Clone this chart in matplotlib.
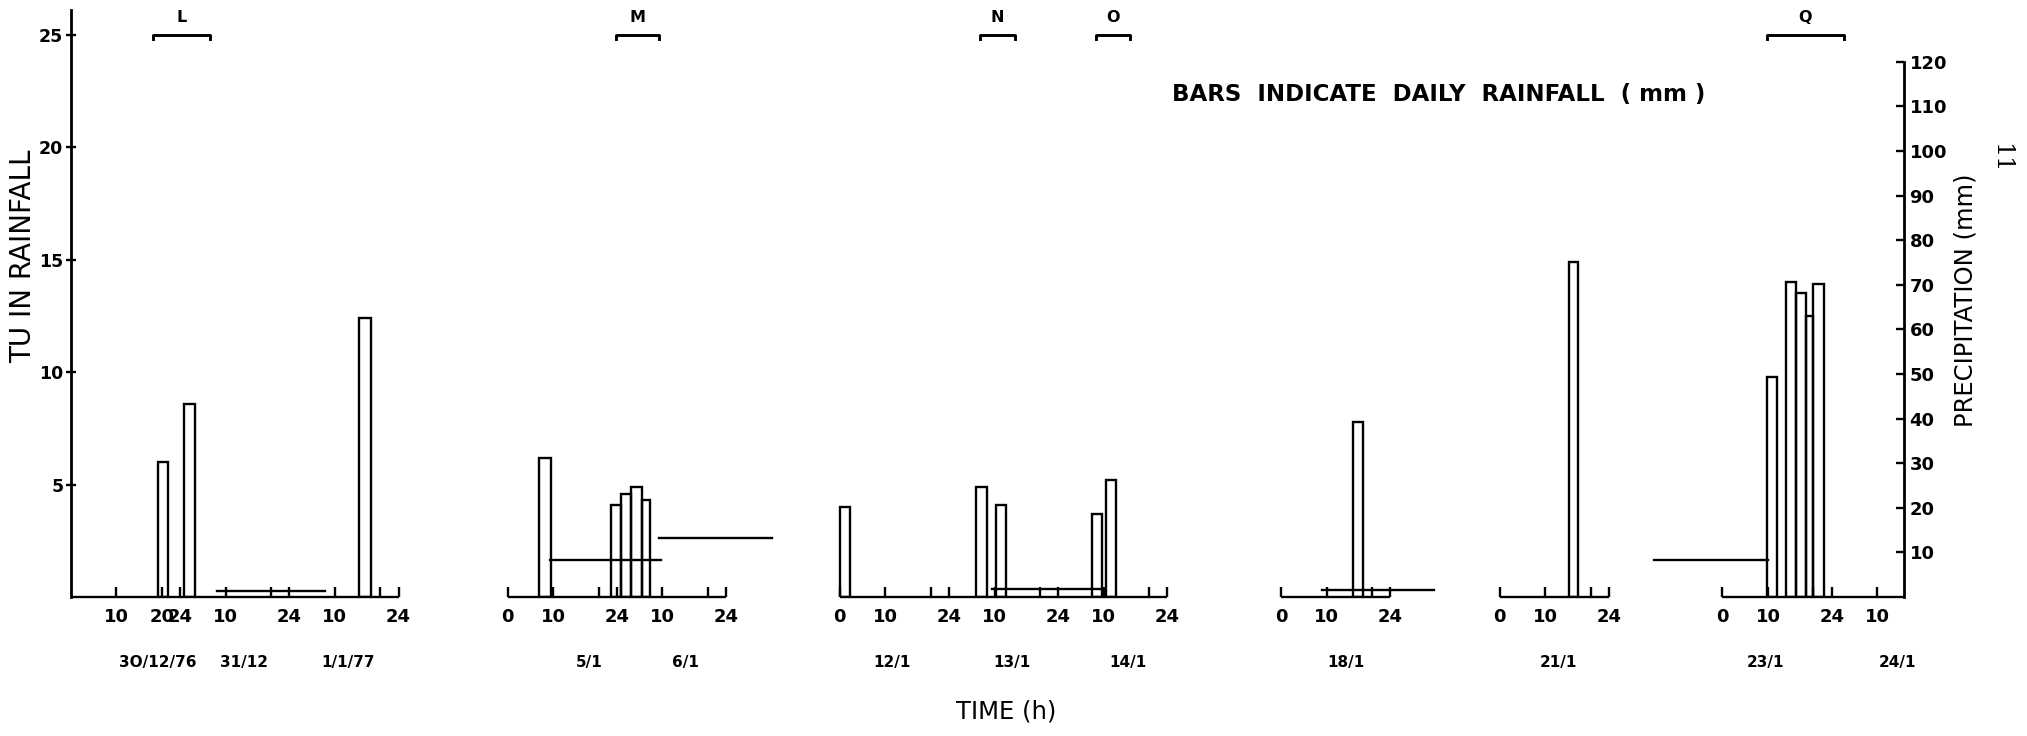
import matplotlib
matplotlib.use("Agg")
import matplotlib.pyplot as plt

# segment layout on the plotting time axis (hours) - gaps between sampling periods are compressed
seg_pos = [0, 96, 169, 266, 314, 363]
seg_len = [72, 48, 72, 24, 24, 40]

# tick hours inside each segment (labelled) and unlabelled 20h ticks
seg_ticks = [[10, 20, 24, 34, 48, 58, 72], [0, 10, 24, 34, 48], [0, 10, 24, 34, 48, 58, 72],
             [0, 10, 24], [0, 10, 24], [0, 10, 24, 34]]
seg_minor = [[44, 68], [20, 44], [20, 44, 68], [20], [20], [20]]

# date labels (segment, hour, text)
date_seg = [0, 0, 0, 1, 1, 2, 2, 2, 3, 4, 5, 5]
date_hour = [19, 38, 61, 18, 39, 11.4, 37.8, 63.3, 14.2, 13, 9.5, 38.5]
date_text = ["3O/12/76", "31/12", "1/1/77", "5/1", "6/1", "12/1", "13/1", "14/1",
             "18/1", "21/1", "23/1", "24/1"]

# tritium content of rainfall (TU), bars
tu_seg = [0, 0, 0, 1, 1, 1, 1, 1, 2, 2, 2, 2, 2, 3, 4, 5, 5, 5, 5, 5]
tu_start = [19.1, 24.8, 63.4, 6.8, 22.8, 24.9, 27.1, 29.4, 0.0, 30.0, 34.3, 55.4, 58.5,
            15.7, 15.2, 9.8, 14.0, 16.1, 18.3, 19.9]
tu_end = [21.3, 27.3, 65.9, 9.4, 24.9, 27.1, 29.4, 31.3, 2.2, 32.4, 36.6, 57.7, 60.8,
          18.0, 17.3, 12.0, 16.1, 18.3, 19.9, 22.3]
tu_value = [6.0, 8.6, 12.4, 6.2, 4.1, 4.6, 4.9, 4.3, 4.0, 4.9, 4.1, 3.7, 5.2,
            7.8, 14.9, 9.8, 14.0, 13.5, 12.5, 13.9]

# daily rainfall (mm), horizontal bars
rain_seg = [0, 1, 1, 2, 3, 5]
rain_start = [32.0, 9.2, 33.2, 33.5, 8.9, -15.0]
rain_end = [55.8, 33.6, 58.0, 57.5, 33.6, 10.0]
rain_mm = [1.3, 8.4, 13.2, 1.9, 1.5, 8.3]

# sampling periods marked at the top
per_seg = [0, 1, 2, 2, 5]
per_start = [18.0, 23.7, 30.8, 56.3, 9.7]
per_end = [30.5, 33.2, 38.5, 63.7, 26.7]
per_name = ["L", "M", "N", "O", "Q"]

W, H = 2027, 736
fig = plt.figure(figsize=(W / 100, H / 100), dpi=100)
x0, x1, ybase, ytop = 71, 1904, 597, 10
ax = fig.add_axes([x0 / W, 1 - ybase / H, (x1 - x0) / W, (ybase - ytop) / H])
ax.set_xlim(0, 402.9)
ax.set_ylim(0, 26.1)
mm_per_tu = 120 / 23.8

lw = 1.7
for s in ["top", "right", "bottom"]:
    ax.spines[s].set_visible(False)
ax.spines["left"].set_linewidth(lw + 0.3)
ax.set_yticks([5, 10, 15, 20, 25])
ax.tick_params(axis="y", direction="inout", length=7, width=lw, labelsize=12.5, pad=2)
for t in ax.get_yticklabels():
    t.set_fontweight("bold")

# time axis: one baseline per sampling period
major, labels, minor = [], [], []
for i in range(len(seg_pos)):
    ax.plot([seg_pos[i], seg_pos[i] + seg_len[i]], [0, 0], color="black", lw=lw, clip_on=False,
            solid_capstyle="butt")
    for h in seg_ticks[i]:
        major.append(seg_pos[i] + h)
        labels.append(str(h % 24 if h % 24 or h == 0 else 24))
    minor += [seg_pos[i] + h for h in seg_minor[i]]
ax.set_xticks(major, labels)
ax.set_xticks(minor, minor=True)
ax.tick_params(axis="x", which="both", direction="in", length=7, width=lw, labelsize=13, pad=8)
for t in ax.get_xticklabels():
    t.set_fontweight("bold")

for s, h, txt in zip(date_seg, date_hour, date_text):
    ax.text(seg_pos[s] + h, -2.9, txt, ha="center", va="center", fontsize=11,
            fontweight="bold", clip_on=False)

# TU bars
xs = [seg_pos[s] + a for s, a in zip(tu_seg, tu_start)]
ws = [b - a for a, b in zip(tu_start, tu_end)]
ax.bar(xs, tu_value, width=ws, align="edge", fill=False, edgecolor="black", linewidth=lw)

# rainfall on right axis
ax2 = ax.twinx()
ax2.set_ylim(0, 26.1 * mm_per_tu)
for s in ["top", "left", "bottom"]:
    ax2.spines[s].set_visible(False)
ax2.spines["right"].set_bounds(0, 120)
ax2.spines["right"].set_linewidth(lw + 0.3)
ax2.set_yticks(range(10, 130, 10))
ax2.tick_params(axis="y", direction="in", length=6, width=lw, labelsize=13, pad=4)
for t in ax2.get_yticklabels():
    t.set_fontweight("bold")
for s, a, b, v in zip(rain_seg, rain_start, rain_end, rain_mm):
    ax2.plot([seg_pos[s] + a, seg_pos[s] + b], [v, v], color="black", lw=lw, clip_on=False)

# sampling period brackets
for s, a, b, name in zip(per_seg, per_start, per_end, per_name):
    xa, xb = seg_pos[s] + a, seg_pos[s] + b
    ax.plot([xa, xa, xb, xb], [24.8, 25, 25, 24.8], color="black", lw=lw + 0.4, clip_on=False)
    ax.text((xa + xb) / 2, 25.75, name, ha="center", va="center", fontsize=11.5,
            fontweight="bold", clip_on=False)

fig.text(23 / W, 1 - 256 / H, "TU IN RAINFALL", ha="center", va="center", fontsize=20,
         rotation=90)
fig.text(1966 / W, 1 - 300 / H, "PRECIPITATION (mm)", ha="center", va="center", fontsize=17.5,
         rotation=90)
fig.text(1439 / W, 1 - 94 / H, "BARS  INDICATE  DAILY  RAINFALL  ( mm )", ha="center",
         va="center", fontsize=16.5, fontweight="bold")
fig.text(1006 / W, 1 - 712 / H, "TIME (h)", ha="center", va="center", fontsize=17.5)
fig.text(2001 / W, 1 - 158 / H, "11", ha="center", va="center", fontsize=17,
         family="DejaVu Serif", rotation=-90)

fig.savefig("out.png", dpi=100)
